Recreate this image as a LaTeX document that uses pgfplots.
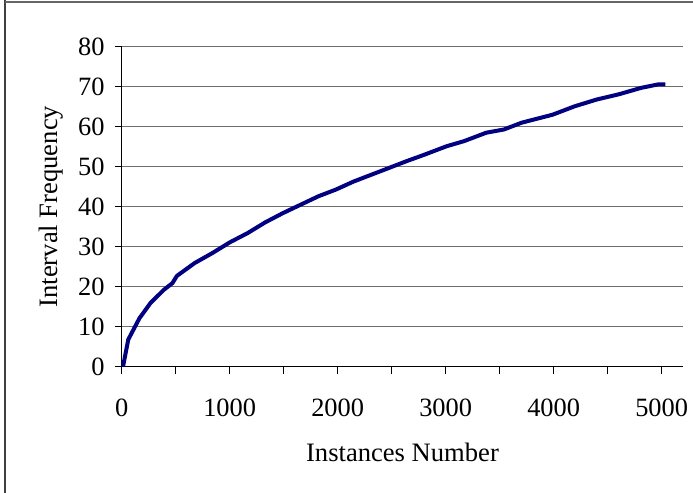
\documentclass[border=0pt]{standalone}
\usepackage{pgfplots}
\pgfplotsset{compat=1.18}
\usepackage{fontspec}
\setmainfont{Liberation Serif}
\definecolor{navyline}{RGB}{0,0,128}
\definecolor{gridgray}{RGB}{110,110,110}
\begin{document}
\begin{tikzpicture}
\path[use as bounding box] (0,0) rectangle (346.5pt,246.5pt);
\draw[line width=1pt, black!75] (2.5pt,246.5pt) -- (2.5pt,0pt);
\draw[line width=1pt, black!60] (2.5pt,245.6pt) -- (346.5pt,245.6pt);
\begin{axis}[
  at={(60.85pt,63.15pt)}, anchor=origin,
  scale only axis, width=280.8pt, height=160pt,
  xmin=0, xmax=5200, ymin=0, ymax=80,
  axis x line=bottom, axis y line=left,
  axis line style={-, line width=0.5pt, black},
  xtick={0,500,...,5000},
  xticklabels={0,,1000,,2000,,3000,,4000,,5000},
  ytick={0,10,...,80},
  yticklabels={0,10,20,30,40,50,60,70,80},
  tick align=outside,
  major tick length=3.5pt,
  tick style={black, line width=0.5pt},
  ymajorgrids, major grid style={gridgray, line width=0.5pt},
  tick label style={font=\fontsize{13.2}{15}\selectfont},
  xticklabel style={anchor=north, yshift=-9.2pt},
  yticklabel style={anchor=east, xshift=-1.5pt},
  xlabel={Instances Number},
  ylabel={Interval Frequency},
  label style={font=\fontsize{13.3}{15}\selectfont},
  xlabel style={at={(axis description cs:0.5,0)}, anchor=center, yshift=-42.7pt},
  ylabel style={at={(axis description cs:0,0.5)}, anchor=center, yshift=35.4pt},
  clip=false,
]
\addplot[navyline, line width=2pt, line join=round] coordinates {
(12,0) (61,6.8) (164,12.1) (266,15.9) (389,19.2) (470,20.9) (511,22.7)
(675,25.9) (839,28.4) (1002,31.1) (1166,33.4) (1330,36.1) (1493,38.4)
(1657,40.5) (1821,42.6) (1985,44.3) (2148,46.3) (2312,48.0) (2476,49.7)
(2639,51.4) (2803,53.0) (3007,55.1) (3171,56.4) (3376,58.5) (3539,59.3)
(3703,61.0) (3990,63.0) (4194,65.1) (4399,66.8) (4603,68.1) (4808,69.7)
(4972,70.6) (5034,70.6)
};
\end{axis}
\end{tikzpicture}
\end{document}
